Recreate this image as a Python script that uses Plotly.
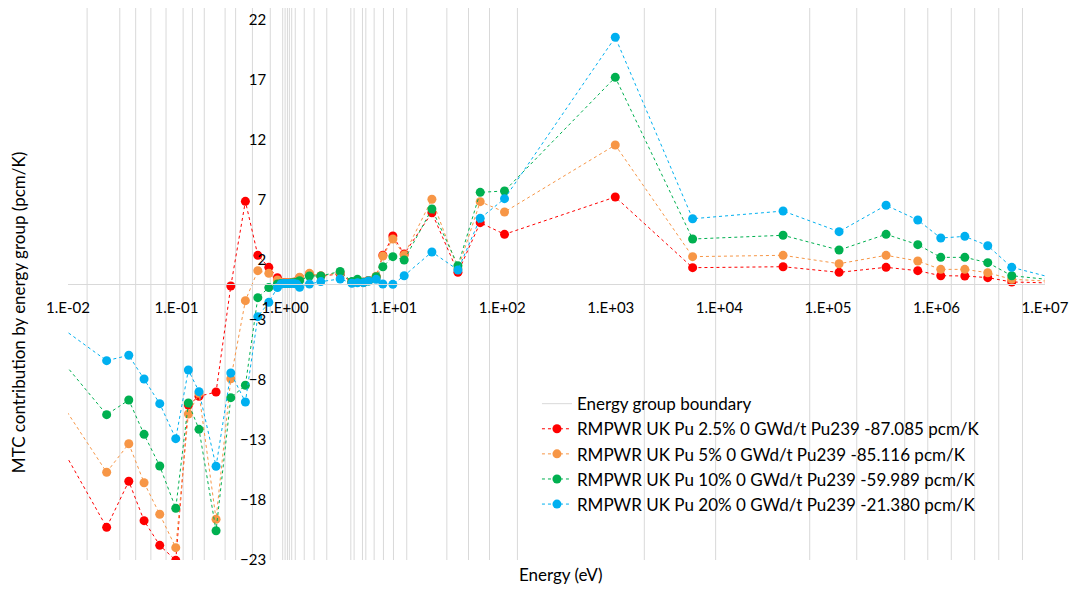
import plotly.graph_objects as go

# ---------------- data ----------------
# energy group boundaries (eV)
group_boundaries = [0.015, 0.03, 0.042, 0.058, 0.08, 0.115, 0.14, 0.18, 0.28, 0.35,
                    0.5, 0.73, 0.95, 1.0, 1.05, 1.095, 1.15, 1.24, 1.5, 1.85,
                    2.42, 4.03, 4.32, 5.16, 5.54, 6.61, 8.05, 9.96, 13.2, 30.9,
                    48.9, 76.4, 138, 2036, 9246, 68000, 184500, 510000, 832000, 1.37e6,
                    2.25e6, 3.75e6, 6.2e6]

# energy of each plotted group point (eV)
energy = [0.00743, 0.0227, 0.0363, 0.0502, 0.070, 0.0983, 0.1285, 0.161, 0.2312, 0.316,
          0.4306, 0.5604, 0.7077, 0.849, 0.9186, 0.9687, 1.0215, 1.077, 1.136, 1.198,
          1.277, 1.36, 1.675, 2.133, 3.213, 4.12, 4.64, 5.27, 5.86, 6.9,
          7.95, 9.83, 12.5, 22.5, 39.1, 62.7, 105, 1100, 5675, 38650,
          126800, 343600, 673000, 1.096e6, 1.825e6, 2.97e6, 4.94e6, 1.30e7]

mtc_pu2_5 = [-12.5, -20.28, -16.44, -19.72, -21.78, -23.03, -10.08, -9.36, -9.0, -0.17,
             6.89, 2.39, 1.39, 0.53, 0.15, 0.12, 0.1, 0.1, 0.12, 0.15,
             0.2, 0.5, 0.8, 0.67, 0.83, 0.15, 0.3, 0.15, 0.3, 0.6,
             2.4, 4.0, 2.5, 5.94, 0.97, 5.11, 4.14, 7.25, 1.36, 1.44,
             0.97, 1.39, 1.11, 0.69, 0.67, 0.53, 0.17, 0.07]
mtc_pu5 = [-9.0, -15.69, -13.31, -16.56, -19.19, -21.97, -10.83, -9.1, -19.6, -7.9,
           -1.39, 1.11, 0.89, 0.33, 0.12, 0.1, 0.1, 0.1, 0.12, 0.15,
           0.2, 0.56, 0.89, 0.67, 0.95, 0.15, 0.3, 0.15, 0.3, 0.65,
           2.33, 3.75, 2.42, 7.06, 1.25, 6.86, 6.0, 11.58, 2.28, 2.39,
           1.69, 2.39, 1.92, 1.22, 1.22, 0.94, 0.39, 0.2]
mtc_pu10 = [-5.6, -10.89, -9.67, -12.53, -15.17, -18.69, -9.92, -12.11, -20.56, -9.47,
            -8.44, -1.14, -0.3, 0.0, 0.05, 0.05, 0.05, 0.05, 0.08, 0.1,
            0.15, 0.28, 0.67, 0.67, 1.05, 0.2, 0.39, 0.15, 0.25, 0.61,
            1.44, 2.28, 2.0, 6.25, 1.53, 7.64, 7.75, 17.22, 3.75, 4.06,
            2.83, 4.14, 3.28, 2.22, 2.22, 1.78, 0.69, 0.3]
mtc_pu20 = [-3.2, -6.39, -5.94, -7.92, -9.97, -12.89, -7.17, -8.97, -15.19, -7.42,
            -9.83, -2.72, -1.53, -0.3, 0.0, 0.05, 0.05, 0.05, 0.05, 0.05,
            0.0, -0.28, 0.0, 0.2, 0.42, 0.06, 0.1, 0.11, 0.25, 0.39,
            0.0, -0.03, 0.69, 2.67, 1.17, 5.47, 7.11, 20.56, 5.44, 6.08,
            4.36, 6.56, 5.33, 3.83, 3.97, 3.19, 1.39, 0.41]

series_names = ["RMPWR UK Pu 2.5% 0 GWd/t Pu239 -87.085 pcm/K",
                "RMPWR UK Pu 5% 0 GWd/t Pu239 -85.116 pcm/K",
                "RMPWR UK Pu 10% 0 GWd/t Pu239 -59.989 pcm/K",
                "RMPWR UK Pu 20% 0 GWd/t Pu239 -21.380 pcm/K"]
series_colors = ["#FF0000", "#F79646", "#00B050", "#00B0F0"]

x_tick_vals = [1e-2, 1e-1, 1e0, 1e1, 1e2, 1e3, 1e4, 1e5, 1e6, 1e7]
x_tick_text = ["1.E-02", "1.E-01", "1.E+00", "1.E+01", "1.E+02", "1.E+03",
               "1.E+04", "1.E+05", "1.E+06", "1.E+07"]
y_tick_vals = [-23, -18, -13, -8, -3, 2, 7, 12, 17, 22]
y_min, y_max = -23, 23

# ---------------- figure ----------------
FONT = "Lato, 'Open Sans', sans-serif"
fig = go.Figure()

bx, by = [], []
for b in group_boundaries:
    bx += [b, b, None]
    by += [y_min, y_max, None]
fig.add_trace(go.Scatter(x=bx, y=by, mode="lines", name="Energy group boundary",
                         line=dict(color="#D9D9D9", width=1), hoverinfo="skip"))

for name, col, vals in zip(series_names, series_colors,
                           [mtc_pu2_5, mtc_pu5, mtc_pu10, mtc_pu20]):
    fig.add_trace(go.Scatter(x=energy, y=vals, mode="lines+markers", name=name,
                             line=dict(color=col, width=1, dash="dot"),
                             marker=dict(color=col, size=9, symbol="circle")))

x_lo, x_hi = -2, 7
y_axis_pos = (0 - x_lo) / (x_hi - x_lo)      # y axis crosses at 1 eV
x_axis_pos = (0 - y_min) / (y_max - y_min)   # x axis crosses at 0

# page body has an 8px margin, so the figure is sized to fit the window
fig.update_layout(
    width=1061, height=578,
    margin=dict(l=60, r=24, t=0, b=26),
    paper_bgcolor="white", plot_bgcolor="white",
    font=dict(family=FONT, size=15, color="#000000"),
    showlegend=True,
    legend=dict(x=0.48, y=0.315, xanchor="left", yanchor="top",
                bgcolor="rgba(255,255,255,0)", font=dict(size=17),
                itemwidth=30, tracegroupgap=0),
    xaxis=dict(type="log", range=[x_lo, x_hi], anchor="free", position=x_axis_pos,
               tickmode="array", tickvals=x_tick_vals, ticktext=x_tick_text,
               showgrid=False, zeroline=False, showline=True, linecolor="#D9D9D9",
               linewidth=1, ticks="", ticklabelstandoff=10, tickfont=dict(size=15)),
    yaxis=dict(range=[y_min, y_max], anchor="free", position=y_axis_pos,
               tickmode="array", tickvals=y_tick_vals, showgrid=False,
               zeroline=False, showline=False, ticks="", ticklabelstandoff=19,
               tickfont=dict(size=15)),
    annotations=[
        dict(text="MTC contribution by energy group (pcm/K)", xref="paper", yref="paper",
             x=-0.0512, y=0.449, textangle=-90, showarrow=False,
             font=dict(size=17), xanchor="center", yanchor="middle"),
        dict(text="Energy (eV)", xref="paper", yref="paper", x=0.5036, y=-0.0254,
             showarrow=False, font=dict(size=17), xanchor="center", yanchor="middle"),
    ],
)

fig.write_html("out.html")
